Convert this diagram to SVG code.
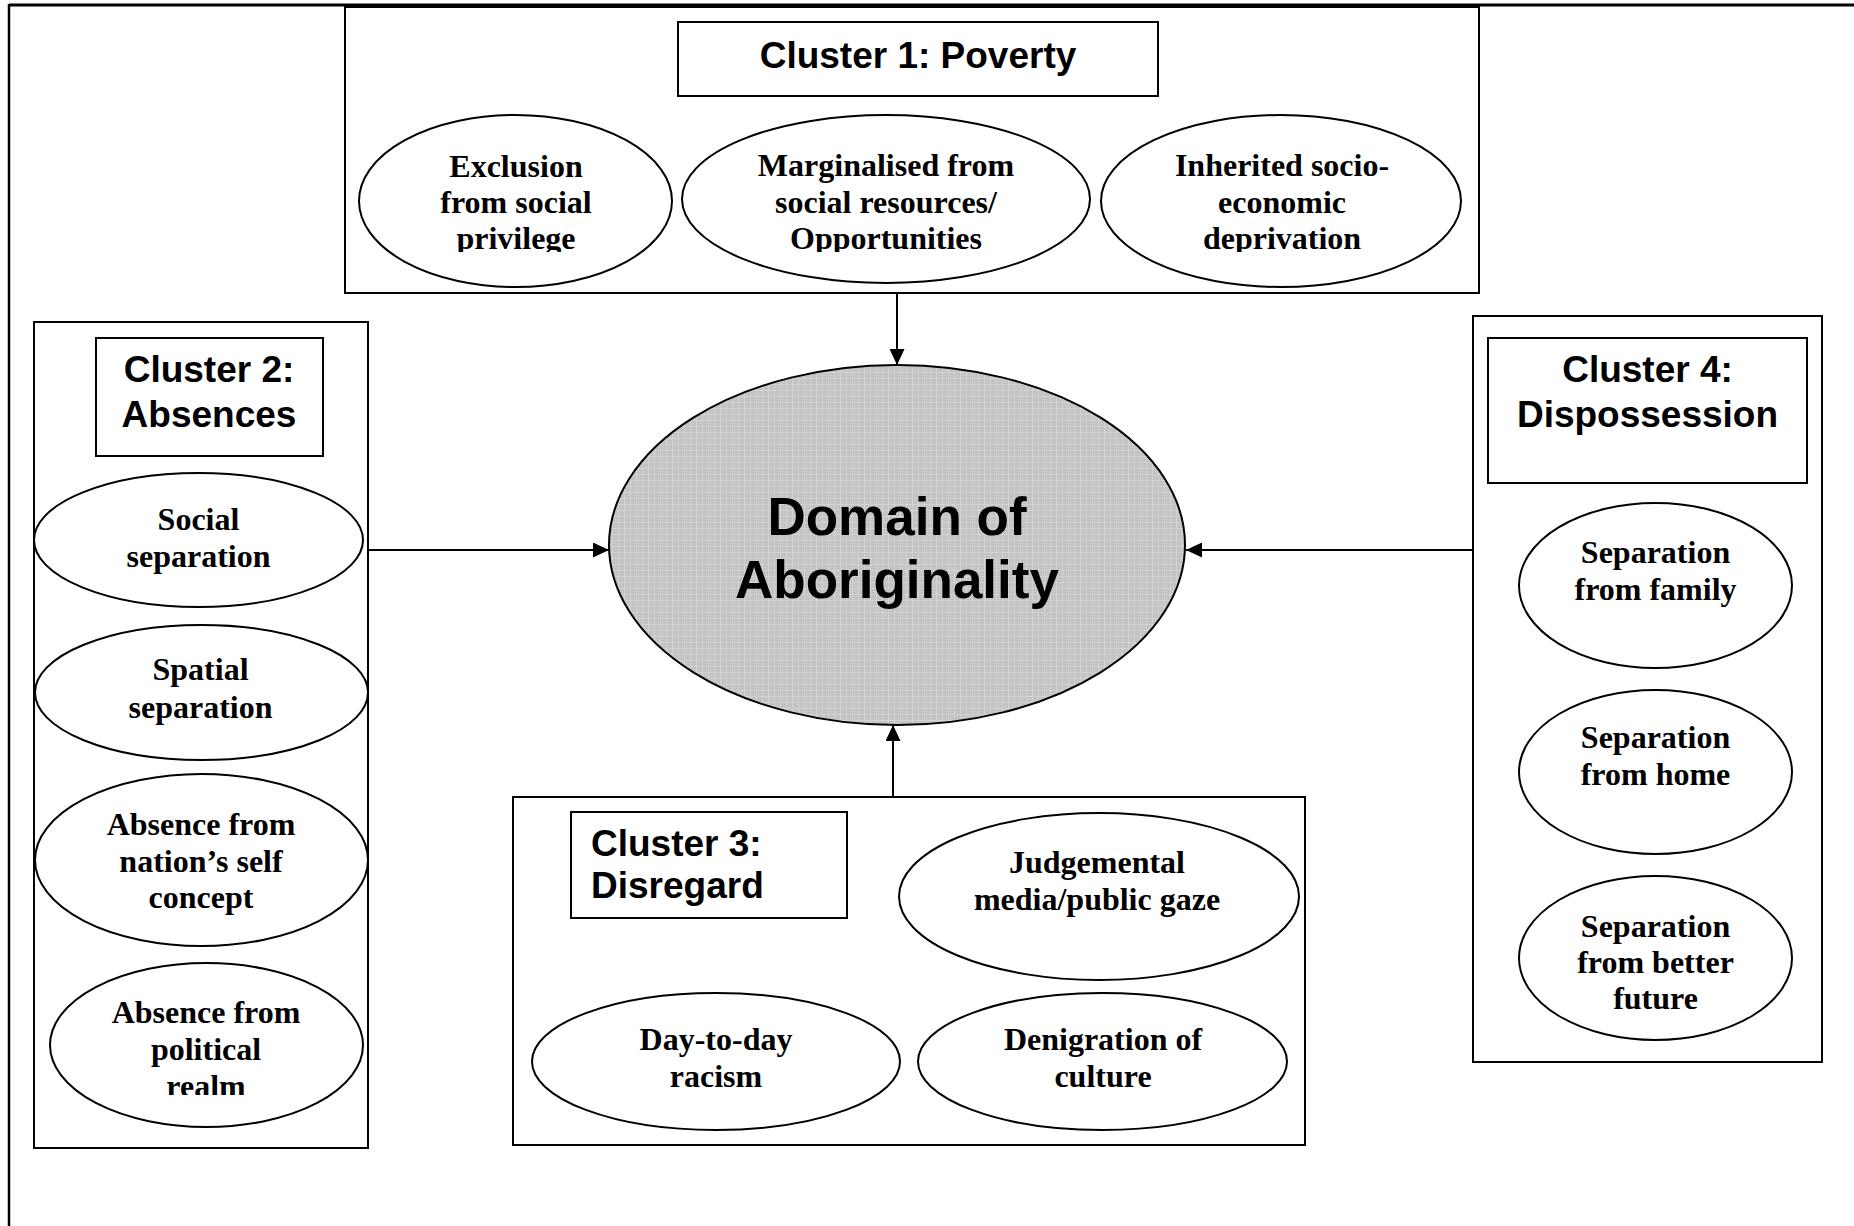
<svg xmlns="http://www.w3.org/2000/svg" width="1854" height="1226" viewBox="0 0 1854 1226">
  <defs>
    <style>
      .box { fill: #fff; stroke: #000; stroke-width: 2; }
      .title { fill: #fff; stroke: #000; stroke-width: 2; }
      .item { fill: #fff; stroke: #000; stroke-width: 2; }
      .core { fill: url(#shade); stroke: #000; stroke-width: 2; }
      .head { font-family: "Liberation Sans", Arial, sans-serif; font-weight: bold; font-size: 37px; fill: #000; }
      .core-text { font-family: "Liberation Sans", Arial, sans-serif; font-weight: bold; font-size: 53px; fill: #000; text-anchor: middle; }
      .lbl { font-family: "Liberation Serif", "Times New Roman", serif; font-weight: bold; font-size: 32px; fill: #000; text-anchor: middle; }
      .mid { text-anchor: middle; }
      .link { stroke: #000; stroke-width: 2; fill: none; marker-end: url(#arrow); }
    </style>
    <pattern id="shade" width="6" height="6" patternUnits="userSpaceOnUse">
      <rect width="6" height="6" fill="#c3c3c3"/>
      <rect width="6" height="1" fill="#d3d3d3"/>
      <rect width="1" height="6" fill="#d3d3d3"/>
      <rect x="3" y="3" width="1" height="1" fill="#d0d0d0"/>
    </pattern>
    <marker id="arrow" markerUnits="userSpaceOnUse" markerWidth="17" markerHeight="15" refX="16" refY="7.5" orient="auto">
      <path d="M0,0 L16,7.5 L0,15 z" fill="#000"/>
    </marker>
    <!-- text frames that cut off the last line of some labels -->
    <clipPath id="cut1"><rect x="340" y="100" width="1140" height="152"/></clipPath>
    <clipPath id="cut2"><rect x="30" y="960" width="340" height="135"/></clipPath>
  </defs>

  <rect width="1854" height="1226" fill="#fff"/>

  <!-- page frame -->
  <g id="page-frame">
    <line x1="9" y1="5" x2="1854" y2="5" stroke="#000" stroke-width="3"/>
    <line x1="9" y1="4" x2="9" y2="1226" stroke="#000" stroke-width="2.5"/>
  </g>

  <!-- connectors -->
  <g id="connectors">
    <line class="link" x1="897" y1="293" x2="897" y2="365"/>
    <line class="link" x1="368" y1="550" x2="609" y2="550"/>
    <line class="link" x1="1473" y1="550" x2="1186" y2="550"/>
    <line class="link" x1="893" y1="797" x2="893" y2="725"/>
  </g>

  <!-- Cluster 1 -->
  <g id="cluster1">
    <rect class="box" x="345" y="7" width="1134" height="286"/>
    <rect class="title" x="678" y="22" width="480" height="74"/>
    <text class="head mid" x="918" y="68">Cluster 1: Poverty</text>
    <g id="c1-exclusion">
      <ellipse class="item" cx="515.5" cy="201" rx="156.5" ry="86"/>
      <text class="lbl" clip-path="url(#cut1)"><tspan x="516" y="177">Exclusion</tspan><tspan x="516" y="213">from social</tspan><tspan x="516" y="249">privilege</tspan></text>
    </g>
    <g id="c1-marginalised">
      <ellipse class="item" cx="886" cy="199" rx="204" ry="84"/>
      <text class="lbl" clip-path="url(#cut1)"><tspan x="886" y="176">Marginalised from</tspan><tspan x="886" y="213">social resources/</tspan><tspan x="886" y="249">Opportunities</tspan></text>
    </g>
    <g id="c1-inherited">
      <ellipse class="item" cx="1281" cy="201" rx="180" ry="86"/>
      <text class="lbl" clip-path="url(#cut1)"><tspan x="1282" y="176">Inherited socio-</tspan><tspan x="1282" y="213">economic</tspan><tspan x="1282" y="249">deprivation</tspan></text>
    </g>
  </g>

  <!-- Cluster 2 -->
  <g id="cluster2">
    <rect class="box" x="34" y="322" width="334" height="826"/>
    <rect class="title" x="96" y="338" width="227" height="118"/>
    <text class="head mid"><tspan x="209" y="382">Cluster 2:</tspan><tspan x="209" y="427">Absences</tspan></text>
    <g id="c2-social">
      <ellipse class="item" cx="198.5" cy="540" rx="164.5" ry="67"/>
      <text class="lbl"><tspan x="198.5" y="530">Social</tspan><tspan x="198.5" y="567">separation</tspan></text>
    </g>
    <g id="c2-spatial">
      <ellipse class="item" cx="201.5" cy="692.5" rx="166.5" ry="67.5"/>
      <text class="lbl"><tspan x="200.5" y="680">Spatial</tspan><tspan x="200.5" y="718">separation</tspan></text>
    </g>
    <g id="c2-nation">
      <ellipse class="item" cx="201.5" cy="860" rx="166.5" ry="86"/>
      <text class="lbl"><tspan x="201" y="835">Absence from</tspan><tspan x="201" y="872">nation’s self</tspan><tspan x="201" y="908">concept</tspan></text>
    </g>
    <g id="c2-political">
      <ellipse class="item" cx="206.5" cy="1045" rx="156.5" ry="82"/>
      <text class="lbl" clip-path="url(#cut2)"><tspan x="206" y="1023">Absence from</tspan><tspan x="206" y="1060">political</tspan><tspan x="206" y="1097">realm</tspan></text>
    </g>
  </g>

  <!-- Core -->
  <g id="core">
    <ellipse class="core" cx="897" cy="545" rx="288" ry="180"/>
    <text class="core-text"><tspan x="897" y="535">Domain of</tspan><tspan x="897" y="598">Aboriginality</tspan></text>
  </g>

  <!-- Cluster 3 -->
  <g id="cluster3">
    <rect class="box" x="513" y="797" width="792" height="348"/>
    <rect class="title" x="571" y="812" width="276" height="106"/>
    <text class="head"><tspan x="591" y="856">Cluster 3:</tspan><tspan x="591" y="898">Disregard</tspan></text>
    <g id="c3-media">
      <ellipse class="item" cx="1099" cy="896.5" rx="200" ry="83.5"/>
      <text class="lbl"><tspan x="1097" y="873">Judgemental</tspan><tspan x="1097" y="910">media/public gaze</tspan></text>
    </g>
    <g id="c3-racism">
      <ellipse class="item" cx="716" cy="1061.5" rx="184" ry="68.5"/>
      <text class="lbl"><tspan x="716" y="1050">Day-to-day</tspan><tspan x="716" y="1087">racism</tspan></text>
    </g>
    <g id="c3-culture">
      <ellipse class="item" cx="1102.5" cy="1061.5" rx="184.5" ry="68.5"/>
      <text class="lbl"><tspan x="1103" y="1050">Denigration of</tspan><tspan x="1103" y="1087">culture</tspan></text>
    </g>
  </g>

  <!-- Cluster 4 -->
  <g id="cluster4">
    <rect class="box" x="1473" y="316" width="349" height="746"/>
    <rect class="title" x="1488" y="338" width="319" height="145"/>
    <text class="head mid"><tspan x="1647.5" y="382">Cluster 4:</tspan><tspan x="1647.5" y="427">Dispossession</tspan></text>
    <g id="c4-family">
      <ellipse class="item" cx="1655.5" cy="585.5" rx="136.5" ry="82.5"/>
      <text class="lbl"><tspan x="1655.5" y="563">Separation</tspan><tspan x="1655.5" y="600">from family</tspan></text>
    </g>
    <g id="c4-home">
      <ellipse class="item" cx="1655.5" cy="772" rx="136.5" ry="82"/>
      <text class="lbl"><tspan x="1655.5" y="748">Separation</tspan><tspan x="1655.5" y="785">from home</tspan></text>
    </g>
    <g id="c4-future">
      <ellipse class="item" cx="1655.5" cy="958" rx="136.5" ry="82"/>
      <text class="lbl"><tspan x="1655.5" y="937">Separation</tspan><tspan x="1655.5" y="973">from better</tspan><tspan x="1655.5" y="1009">future</tspan></text>
    </g>
  </g>
</svg>
